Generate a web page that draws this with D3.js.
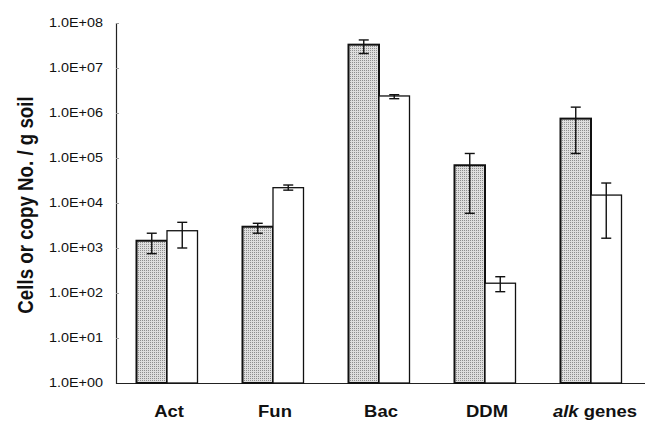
<!DOCTYPE html>
<html>
<head>
<meta charset="utf-8">
<script src="https://cdn.jsdelivr.net/npm/d3@7"></script>
<style>
  body { margin: 0; background: #fff; }
  svg { font-family: "Liberation Sans", Arial, sans-serif; }
</style>
</head>
<body>
<div id="chart"></div>
<script>
// categories and two series (stippled = series A, open = series B)
const categories = ['Act', 'Fun', 'Bac', 'DDM', 'alk genes'];
const series = ['a', 'b'];
const valuesA = [1450, 2970, 3.3e7, 6.9e4, 7.5e5];
const valuesB = [2420, 21900, 2.39e6, 165, 1.5e4];
// error bar ends (upper, lower)
const errHiA = [2130, 3540, 4.2e7, 1.26e5, 1.35e6];
const errLoA = [750, 2130, 2.1e7, 5.9e3, 1.26e5];
const errHiB = [3720, 25100, 2.55e6, 230, 2.78e4];
const errLoB = [1000, 19300, 2.08e6, 107, 1650];
const yTicks = [1e0, 1e1, 1e2, 1e3, 1e4, 1e5, 1e6, 1e7, 1e8];

const width = 646, height = 423;
const svg = d3.select('#chart').append('svg')
  .attr('width', width).attr('height', height);

// stipple pattern for the first series
const defs = svg.append('defs');
const pat = defs.append('pattern')
  .attr('id', 'stipple').attr('patternUnits', 'userSpaceOnUse')
  .attr('width', 2).attr('height', 2);
pat.append('rect').attr('width', 2).attr('height', 2).attr('fill', '#dedede');
pat.append('rect').attr('width', 1).attr('height', 1).attr('fill', '#8e8e8e');

const x = d3.scaleBand().domain(categories).range([114, 644]);
const xs = d3.scaleBand().domain(series)
  .range([x.bandwidth() / 2 - 30.5, x.bandwidth() / 2 + 30.5]);
const y = d3.scaleLog().domain([1, 1e8]).range([383, 23]);

// axes
const fmt = d => '1.0E+' + String(Math.round(Math.log10(d))).padStart(2, '0');
const yAxis = svg.append('g')
  .attr('transform', 'translate(116,0)')
  .call(d3.axisLeft(y).tickValues(yTicks).tickFormat(fmt).tickSize(-3).tickPadding(13));
yAxis.select('.domain').attr('stroke', '#222').attr('stroke-width', 1.2);
yAxis.selectAll('.tick line').attr('stroke', '#999');
yAxis.selectAll('text')
  .attr('x', 0)
  .attr('transform', 'translate(-13,0) scale(1.2,1)')
  .attr('font-size', 12).attr('fill', '#111');

const xAxis = svg.append('g')
  .attr('transform', 'translate(0,383)')
  .call(d3.axisBottom(x).tickSize(0).tickFormat(''));
xAxis.select('.domain').attr('d', 'M116,0.5H645').attr('stroke', '#222').attr('stroke-width', 1.2);

// x labels
const xl = svg.append('g');
categories.forEach(c => {
  const t = xl.append('text')
    .attr('transform', `translate(${x(c) + x.bandwidth() / 2 + (c === 'alk genes' ? 4 : 2)},417) scale(1.12,1)`)
    .attr('text-anchor', 'middle').attr('font-size', 16.5).attr('font-weight', 'bold')
    .attr('fill', '#111');
  if (c === 'alk genes') {
    t.append('tspan').attr('font-style', 'italic').text('alk');
    t.append('tspan').text(' genes');
  } else {
    t.text(c);
  }
});

// y title
svg.append('text')
  .attr('transform', 'translate(33,205) rotate(-90) scale(1.04,1.2)')
  .attr('text-anchor', 'middle').attr('font-size', 18).attr('font-weight', 'bold')
  .attr('fill', '#111')
  .text('Cells or copy No. / g soil');

// bars
const rows = categories.map((c, i) => [
  { c, s: 'a', v: valuesA[i], hi: errHiA[i], lo: errLoA[i] },
  { c, s: 'b', v: valuesB[i], hi: errHiB[i], lo: errLoB[i] }
]).flat();

const bars = svg.append('g');
bars.selectAll('rect').data(rows).join('rect')
  .attr('x', d => x(d.c) + xs(d.s))
  .attr('y', d => y(d.v))
  .attr('width', xs.bandwidth())
  .attr('height', d => y(1) - y(d.v))
  .attr('fill', d => d.s === 'a' ? 'url(#stipple)' : '#fff')
  .attr('stroke', '#111')
  .attr('stroke-width', d => d.s === 'a' ? 2 : 1.3);

// error bars
const err = svg.append('g').attr('stroke', '#111').attr('stroke-width', 1.4);
rows.forEach(d => {
  const cx = x(d.c) + xs(d.s) + xs.bandwidth() / 2;
  err.append('line').attr('x1', cx).attr('x2', cx).attr('y1', y(d.hi)).attr('y2', y(d.lo));
  err.append('line').attr('x1', cx - 5).attr('x2', cx + 5).attr('y1', y(d.hi)).attr('y2', y(d.hi));
  err.append('line').attr('x1', cx - 5).attr('x2', cx + 5).attr('y1', y(d.lo)).attr('y2', y(d.lo));
});
</script>
</body>
</html>
